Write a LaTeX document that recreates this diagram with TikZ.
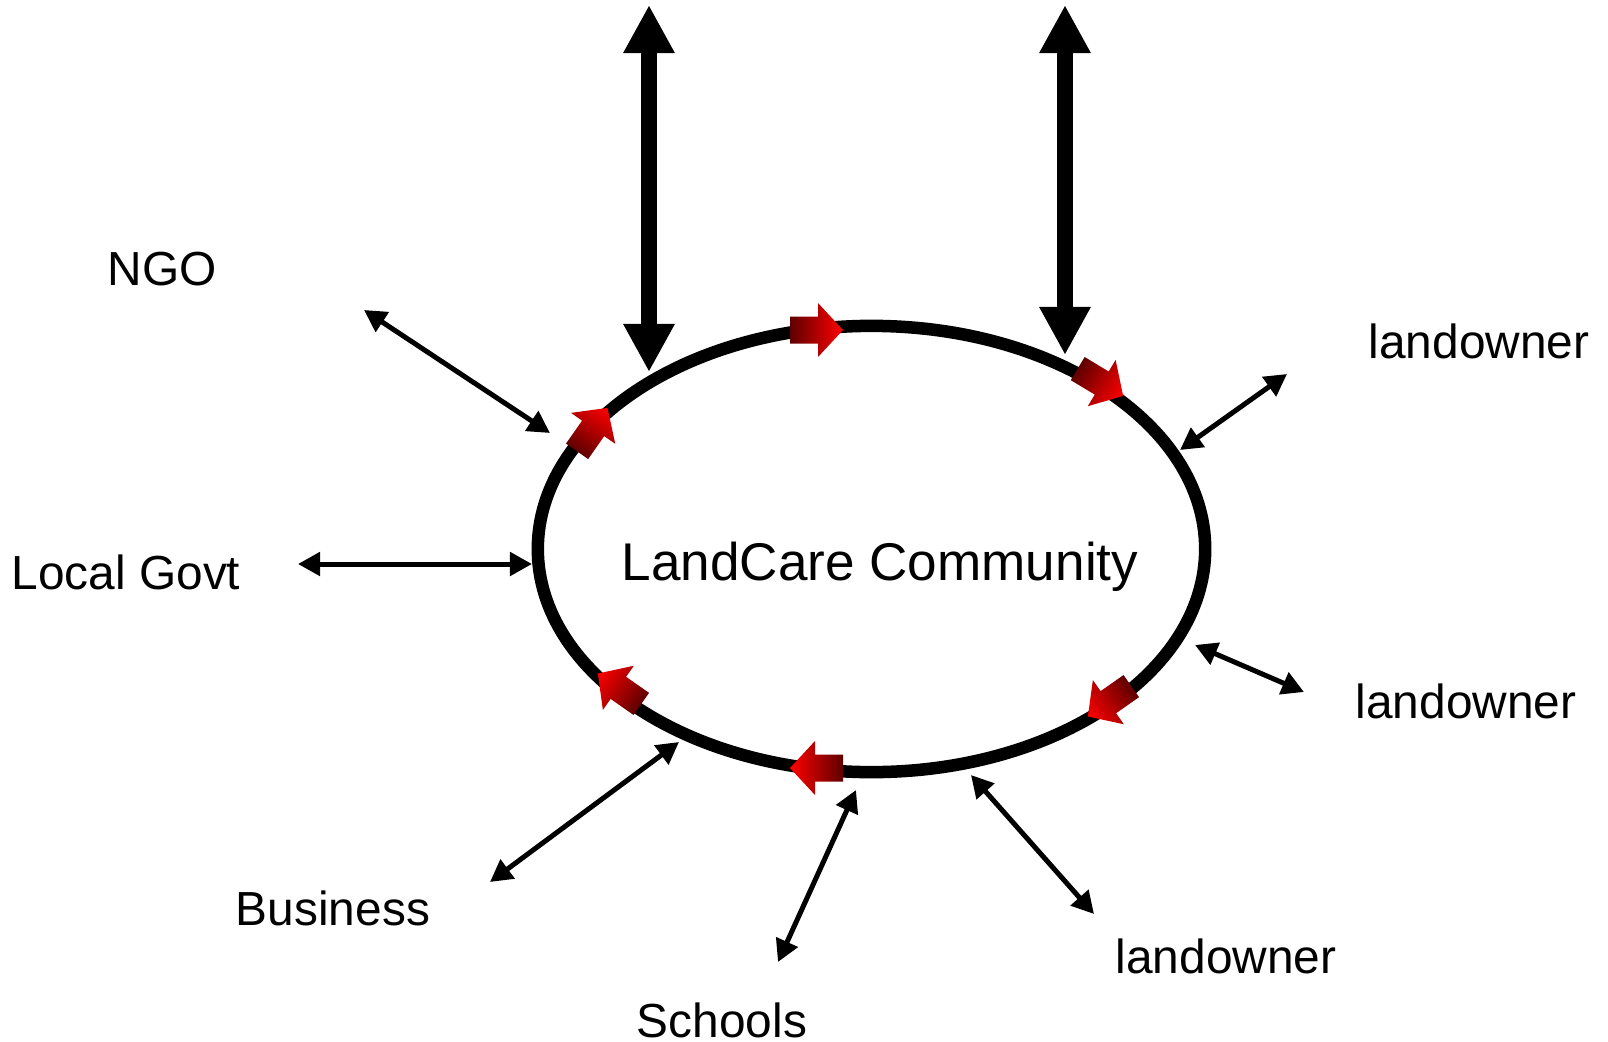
\documentclass[tikz,border=0pt]{standalone}
\usepackage{fontspec}
\setmainfont{Liberation Sans}
\usetikzlibrary{arrows.meta,shapes.geometric}
\definecolor{arrowdark}{RGB}{95,0,0}
\definecolor{arrowred}{RGB}{255,0,0}
\tikzset{
  label/.style={font=\fontsize{13.6pt}{16pt}\selectfont, anchor=base, inner sep=0pt},
  thinarrow/.style={line width=0.05cm, {Triangle[length=0.22cm,width=0.23cm]}-{Triangle[length=0.22cm,width=0.23cm]}},
  thickarrow/.style={line width=0.16cm, {Triangle[length=0.48cm,width=0.48cm]}-{Triangle[length=0.48cm,width=0.48cm]}},
  ring/.style={draw, ellipse, line width=0.125cm, minimum width=6.67cm, minimum height=4.46cm, inner sep=0pt},
  flowarrow/.style={left color=arrowdark, middle color=arrowred, right color=arrowred}
}
\newcommand\flowarrowat[3]{%
  \begin{scope}[transform canvas={shift={(#1,#2)},rotate=#3}]
    \shade[flowarrow] (-26,-13.5) -- (2,-13.5) -- (2,-27) -- (27,0) -- (2,27) -- (2,13.5) -- (-26,13.5) -- cycle;
  \end{scope}}
\begin{document}
\begin{tikzpicture}[x=0.01cm,y=-0.01cm]
\useasboundingbox (0,0) rectangle (1608,1042);
\fill[white] (0,0) rectangle (1608,1042);

% central ring
\node[ring] (lc) at (871.5,549) {};
\node[label, font=\fontsize{15.1pt}{18pt}\selectfont] (lctext) at (880,580) {LandCare Community};

% labels
\node[label] (ngo) at (162,285) {NGO};
\node[label] (govt) at (126,589) {Local Govt};
\node[label] (lo1) at (1479,358) {landowner};
\node[label] (lo2) at (1466,718) {landowner};
\node[label] (lo3) at (1226,973) {landowner};
\node[label] (bus) at (333,925) {Business};
\node[label] (sch) at (722,1037) {Schools};

% arrow end points
\coordinate (ngoA) at (364,310);  \coordinate (ngoB) at (550,433);
\coordinate (govA) at (298,564);  \coordinate (govB) at (532,564);
\coordinate (busA) at (490,882);  \coordinate (busB) at (679,742);
\coordinate (schA) at (778,962);  \coordinate (schB) at (856,790);
\coordinate (lo3A) at (1094,914); \coordinate (lo3B) at (971,775);
\coordinate (lo2A) at (1304,692); \coordinate (lo2B) at (1195,645);
\coordinate (lo1A) at (1287,374); \coordinate (lo1B) at (1180,450);
\coordinate (t1A) at (649,5);     \coordinate (t1B) at (649,372);
\coordinate (t2A) at (1065,5);    \coordinate (t2B) at (1065,355);

% thin two-way arrows
\draw[thinarrow] (ngoA) -- (ngoB);
\draw[thinarrow] (govA) -- (govB);
\draw[thinarrow] (busA) -- (busB);
\draw[thinarrow] (schA) -- (schB);
\draw[thinarrow] (lo3A) -- (lo3B);
\draw[thinarrow] (lo2A) -- (lo2B);
\draw[thinarrow] (lo1A) -- (lo1B);

% thick two-way arrows
\draw[thickarrow] (t1A) -- (t1B);
\draw[thickarrow] (t2A) -- (t2B);

% red flow arrows around the ring
\flowarrowat{816}{330}{0}
\flowarrowat{1100}{382}{-31}
\flowarrowat{1110}{701}{-145}
\flowarrowat{817}{768}{180}
\flowarrowat{620}{689}{145}
\flowarrowat{592}{430}{55}
\end{tikzpicture}
\end{document}
